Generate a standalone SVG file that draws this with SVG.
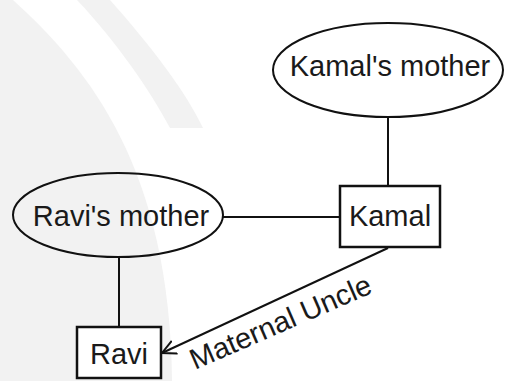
<svg xmlns="http://www.w3.org/2000/svg" width="510" height="381" viewBox="0 0 510 381">
  <style>
    .shape { fill: none; stroke: #111; stroke-width: 2; }
    .box { fill: #fff; stroke: #111; stroke-width: 2.5; }
    .wm { fill: #f2f2f2; stroke: none; }
    .lbl { font-family: "Liberation Sans", Arial, sans-serif; font-size: 29px; fill: #1a1a1a; }
    .edge { stroke: #111; stroke-width: 2; fill: none; }
  </style>
  <defs>
    <marker id="openArrow" markerUnits="userSpaceOnUse" markerWidth="18" markerHeight="18" refX="14" refY="8" orient="auto" viewBox="0 0 18 16">
      <path d="M0,1 L14,8 L0,15" fill="none" stroke="#111" stroke-width="2"/>
    </marker>
  </defs>
  <rect width="510" height="381" fill="#fff"/>
  <g id="watermark">
    <path class="wm" d="M0,0 L13,0 C90,70 170,170 172,381 L0,381 Z"/>
    <path class="wm" d="M77,0 L110,0 C150,45 185,90 203,128 L170,128 C150,90 115,40 77,0 Z"/>
  </g>
  <g id="connectors">
    <line class="edge" x1="388" y1="117" x2="388" y2="186"/>
    <line class="edge" x1="223" y1="217" x2="340" y2="217"/>
    <line class="edge" x1="119" y1="258" x2="119" y2="327"/>
    <line class="edge" x1="388" y1="248" x2="162" y2="353" marker-end="url(#openArrow)"/>
    <text class="lbl" transform="translate(195,370) rotate(-23.5)">Maternal Uncle</text>
  </g>
  <g id="kamals-mother">
    <ellipse class="shape" cx="388" cy="70" rx="115" ry="47"/>
    <text class="lbl" x="390" y="76" text-anchor="middle">Kamal's mother</text>
  </g>
  <g id="ravis-mother">
    <ellipse class="shape" cx="118" cy="215" rx="105" ry="42"/>
    <text class="lbl" x="121" y="226" text-anchor="middle">Ravi's mother</text>
  </g>
  <g id="kamal">
    <rect class="box" x="340" y="186" width="100" height="61"/>
    <text class="lbl" x="390" y="226" text-anchor="middle">Kamal</text>
  </g>
  <g id="ravi">
    <rect class="box" x="77" y="327" width="84" height="51"/>
    <text class="lbl" x="119" y="364" text-anchor="middle">Ravi</text>
  </g>
</svg>
